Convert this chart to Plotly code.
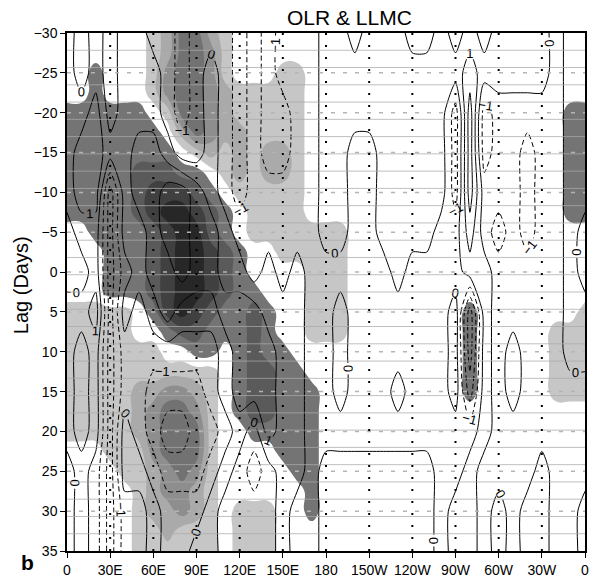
import plotly.graph_objects as go

# ---------------- data ----------------
# Shaded OLR anomaly on a 10 deg x 2.5 day grid.
# code: d,c,b,a = -4..-1 (negative, dark greys); '.' = 0; 1..4 = positive (light greys)
shade_lons = list(range(0, 361, 10))
shade_lags = [-30 + 2.5 * i for i in range(27)]
shade_rows = [
    "......124421" + "." * 25,                                   # -30
    "......124431" + "." * 25,                                   # -27.5
    "..a...134431...11" + "." * 20,                              # -25
    "..a...1344321.111" + "." * 20,                              # -22.5
    "aaaaaa.1443211111" + "." * 18 + "aa",                       # -20
    "aaaaaaa.243221111" + "." * 18 + "aa",                       # -17.5
    "aaaaaaaa.12121221" + "." * 18 + "aa",                       # -15
    "aaaaabbbaa.121221" + "." * 18 + "aa",                       # -12.5
    "aaaaabcccba.11111" + "." * 18 + "aa",                       # -10
    "aaaaabcddcba.1111" + "." * 18 + "aa",                       # -7.5
    "..aaaabcddba.1111111" + "." * 17,                           # -5
    "...aaabcddcba..11111" + "." * 17,                           # -2.5
    "...aaabcddcba....111" + "." * 17,                           # 0
    "...aaabcddcbaa...111" + "." * 17,                           # 2.5
    "11111.acdcbaaba..111" + "........a......." + "1",           # 5
    "11111..abbaaaba..111" + "........a....." + "111",           # 7.5
    "1111111..aa.abaa" + "." * 12 + "a" + "." * 5 + "111",       # 10
    "11111111111.abbaa" + "." * 11 + "a" + "." * 5 + "111",      # 12.5
    "11111223321.abbaaa" + "." * 10 + "a" + "." * 5 + "111",     # 15
    "11111234431.abbaaa" + "." * 19,                             # 17.5
    "11111234441..aaaaa" + "." * 19,                             # 20
    "...11134441....aaa" + "." * 19,                             # 22.5
    "....1123431.....aa" + "." * 19,                             # 25
    ".....123321......a" + "." * 19,                             # 27.5
    ".....122321.111..a" + "." * 19,                             # 30
    ".....112111.111" + "." * 22,                                # 32.5
    ".....111111.111" + "." * 22,                                # 35
]
shade_rows[3] = "..a...1344321" + "1111" + "." * 20                 # -22.5 (no notch)
shade_code = {'d': -4, 'c': -3, 'b': -2, 'a': -1, '.': 0, '1': 1, '2': 2, '3': 3, '4': 4}

# LLMC on a 10 deg x 5 day grid: digit - 4.5  (4/5 straddle zero)
llmc_lons = list(range(0, 361, 10))
llmc_lags = list(range(-30, 36, 5))
llmc_rows = [
    "54545544344434344" + "45545554454545555455",   # -30
    "54545554345434344" + "45555555555655555455",   # -25
    "55645554345434334" + "45555555553734444455",   # -20
    "56655665445434334" + "45544555553734434455",   # -15
    "56625667765434444" + "45544555553744434455",   # -10
    "45525567766544444" + "45544555544643434454",   # -5
    "44524566766554545" + "44444454444554444454",   # 0
    "55625456555666555" + "44544444445154444455",   # 5
    "54524444444566655" + "44544444445154544455",   # 10
    "54524433334566655" + "44544454445254544444",   # 15
    "54525432233454655" + "44444444444454444444",   # 20
    "45425543334543455" + "45555555544544445444",   # 25
    "45424454445444454" + "45555555545545455445",   # 30
    "45424454455444454" + "45555555545545455445",   # 35
]

xtick_vals = list(range(0, 361, 30))
xtick_text = ["0", "30E", "60E", "90E", "120E", "150E", "180",
              "150W", "120W", "90W", "60W", "30W", "0"]
ytick_vals = list(range(-30, 36, 5))

# ---------------- build fields ----------------
def fix(row, n=37, fill='.'):
    return (row + fill * n)[:n]

z_shade = [[shade_code[ch] for ch in fix(r)] for r in shade_rows]
z_llmc = [[int(ch) - 4.5 for ch in fix(r, fill='5')] for r in llmc_rows]

fig = go.Figure()

# constraint contours shade the *invalid* region:
#   operation '<' value v  -> shades z > v ;  operation '>' value v -> shades z < v
pos_fill = [(0.5, '#c6c6c6'), (1.5, '#aaaaaa'), (2.5, '#8e8e8e'), (3.5, '#727272')]
neg_fill = [(-0.5, '#747474'), (-1.5, '#5a5a5a'), (-2.5, '#404040'), (-3.5, '#272727')]

for val, col in pos_fill:
    fig.add_trace(go.Contour(
        x=shade_lons, y=shade_lags, z=z_shade,
        contours=dict(type='constraint', operation='<', value=val),
        fillcolor=col, line=dict(width=0, smoothing=1.3),
        showscale=False, hoverinfo='skip'))
for val, col in neg_fill:
    fig.add_trace(go.Contour(
        x=shade_lons, y=shade_lags, z=z_shade,
        contours=dict(type='constraint', operation='>', value=val),
        fillcolor=col, line=dict(width=0, smoothing=1.3),
        showscale=False, hoverinfo='skip'))

black_scale = [[0, 'black'], [1, 'black']]

def line_trace(start, end, dash, labels):
    return go.Contour(
        x=llmc_lons, y=llmc_lags, z=z_llmc,
        autocontour=False,
        colorscale=black_scale,
        contours=dict(coloring='lines', start=start, end=end, size=1,
                      showlabels=labels,
                      labelfont=dict(size=13, color='black', family='Liberation Sans')),
        line=dict(width=1, dash=dash, smoothing=0.7),
        showscale=False, hoverinfo='skip')

fig.add_trace(line_trace(0, 0, 'solid', True))
fig.add_trace(line_trace(1, 1, 'solid', True))
fig.add_trace(line_trace(2, 4, 'solid', False))
fig.add_trace(line_trace(-1, -1, '5px,3px', True))
fig.add_trace(line_trace(-4, -2, '5px,3px', False))

# ---------------- decorations ----------------
shapes = []
for k in range(1, 30):
    lag = -30 + 65.0 * k / 30
    shapes.append(dict(type='line', xref='x', yref='y', x0=0, x1=360, y0=lag, y1=lag,
                       line=dict(color='rgba(170,170,170,0.75)', width=1), layer='above'))
for lag in ytick_vals[1:-1]:
    shapes.append(dict(type='line', xref='x', yref='y', x0=0, x1=360, y0=lag, y1=lag,
                       line=dict(color='#b4b4b4', width=1.5, dash='4px,8px'), layer='above'))
for lon in xtick_vals[1:-1]:
    shapes.append(dict(type='line', xref='x', yref='y', x0=lon, x1=lon, y0=-30, y1=35,
                       line=dict(color='black', width=2, dash='2px,10px'), layer='above'))

font_family = 'Liberation Sans, Arial, sans-serif'
fig.update_layout(
    width=595, height=579,
    margin=dict(l=67, r=10, t=33, b=28),
    paper_bgcolor='white', plot_bgcolor='white',
    showlegend=False,
    font=dict(family=font_family, color='black'),
    shapes=shapes,
    annotations=[
        dict(text='OLR &amp; LLMC', x=0.546, y=1.030, xref='paper', yref='paper',
             xanchor='center', yanchor='middle', showarrow=False,
             font=dict(size=21, family=font_family, color='black')),
        dict(text='<b>b</b>', x=-0.077, y=-0.023, xref='paper', yref='paper',
             xanchor='center', yanchor='middle', showarrow=False,
             font=dict(size=21, family=font_family, color='black')),
        dict(text='Lag (Days)', x=-0.089, y=0.513, xref='paper', yref='paper',
             xanchor='center', yanchor='middle', showarrow=False, textangle=-90,
             font=dict(size=20, family=font_family, color='black')),
    ],
)
fig.update_xaxes(range=[0, 360], tickvals=xtick_vals, ticktext=xtick_text,
                 ticks='outside', ticklen=5, tickwidth=1.2, tickcolor='black',
                 showline=True, linecolor='black', linewidth=1.5, mirror=True,
                 showgrid=False, zeroline=False, automargin=False,
                 tickfont=dict(size=14, family=font_family, color='black'))
fig.update_yaxes(range=[35, -30], tickvals=ytick_vals,
                 ticks='outside', ticklen=5, tickwidth=1.2, tickcolor='black',
                 showline=True, linecolor='black', linewidth=1.5, mirror=True,
                 showgrid=False, zeroline=False, automargin=False,
                 tickfont=dict(size=14, family=font_family, color='black'))

fig.write_html("out.html")
